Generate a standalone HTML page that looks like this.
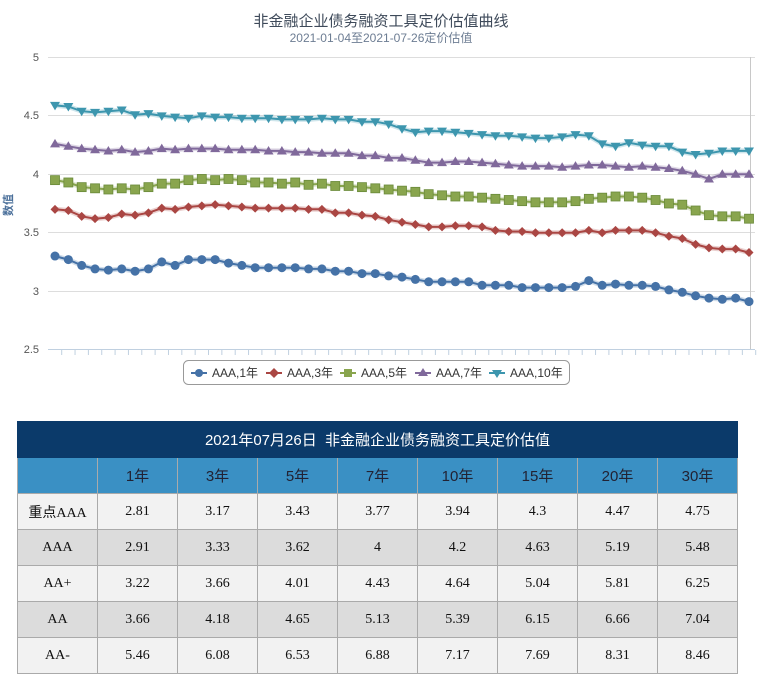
<!DOCTYPE html>
<html><head><meta charset="utf-8"><style>
body{margin:0;width:762px;height:691px;background:#fff;overflow:hidden;position:relative;font-family:"Liberation Sans","Noto Sans CJK SC",sans-serif}
table{position:absolute;left:17px;top:421px;border-collapse:collapse;width:721px;font-family:"Liberation Serif","Noto Sans CJK SC",serif;font-size:14px;color:#111}
td{border:1px solid #aaa;text-align:center;height:35px;padding:0;width:79px}
.t td{background:#0b3a6a;color:#fff;font-family:"Liberation Sans","Noto Sans CJK SC",sans-serif;font-size:15px;border-color:#0b3a6a}
.h td{background:#3a90c4;color:#223;font-family:"Liberation Sans","Noto Sans CJK SC",sans-serif;font-size:15px;border-color:#aaa}
.a td{background:#f2f2f2}.b td{background:#dcdcdc}
</style></head><body>
<svg id="c" width="762" height="400" style="position:absolute;left:0;top:0" font-family="Liberation Sans,Noto Sans CJK SC,sans-serif">
<text x="381" y="26" text-anchor="middle" font-size="15" fill="#3e4a5a">非金融企业债务融资工具定价估值曲线</text>
<text x="381" y="42" text-anchor="middle" font-size="12" fill="#6d7d93">2021-01-04至2021-07-26定价估值</text>
<g font-size="11" fill="#555" text-anchor="end">
<text x="39" y="61">5</text><text x="39" y="119">4.5</text><text x="39" y="178">4</text><text x="39" y="236">3.5</text><text x="39" y="295">3</text><text x="39" y="353">2.5</text></g>
<text x="12" y="205" font-size="11" fill="#4a6f9a" font-weight="bold" transform="rotate(-90 12 205)" text-anchor="middle">数值</text>
<g stroke="#ddd" stroke-width="1">
<line x1="48" x2="755" y1="57.5" y2="57.5"/><line x1="48" x2="755" y1="115.5" y2="115.5"/><line x1="48" x2="755" y1="174.5" y2="174.5"/><line x1="48" x2="755" y1="232.5" y2="232.5"/><line x1="48" x2="755" y1="291.5" y2="291.5"/></g>
<line x1="48" x2="755" y1="349.5" y2="349.5" stroke="#c0d0e0"/>
<line x1="750.5" x2="750.5" y1="57" y2="349" stroke="#c8c8c8"/>
<g id="ticks" stroke="#c0d0e0"></g>
<g id="series"></g>
<rect x="183.5" y="360.5" width="386" height="24" rx="5" fill="#fff" stroke="#999"/>
<g font-size="12" fill="#333">
<line x1="191" x2="207" y1="373" y2="373" stroke="#4572a7" stroke-width="2"/><circle cx="199" cy="373" r="4" fill="#4572a7"/><text x="212" y="377">AAA,1年</text>
<line x1="266" x2="282" y1="373" y2="373" stroke="#aa4643" stroke-width="2"/><path d="M274 368l5 5-5 5-5-5z" fill="#aa4643"/><text x="287" y="377">AAA,3年</text>
<line x1="340" x2="356" y1="373" y2="373" stroke="#89a54e" stroke-width="2"/><rect x="344" y="369" width="8" height="8" fill="#89a54e"/><text x="361" y="377">AAA,5年</text>
<line x1="415" x2="431" y1="373" y2="373" stroke="#80699b" stroke-width="2"/><path d="M423 368l5 8h-10z" fill="#80699b"/><text x="436" y="377">AAA,7年</text>
<line x1="489" x2="505" y1="373" y2="373" stroke="#3d96ae" stroke-width="2"/><path d="M497 378l5-8h-10z" fill="#3d96ae"/><text x="510" y="377">AAA,10年</text>
</g>
</svg>
<table>
<tr class="t"><td colspan="9">2021年07月26日&nbsp; 非金融企业债务融资工具定价估值</td></tr>
<tr class="h"><td></td><td>1年</td><td>3年</td><td>5年</td><td>7年</td><td>10年</td><td>15年</td><td>20年</td><td>30年</td></tr>
<tr class="a"><td>重点AAA</td><td>2.81</td><td>3.17</td><td>3.43</td><td>3.77</td><td>3.94</td><td>4.3</td><td>4.47</td><td>4.75</td></tr>
<tr class="b"><td>AAA</td><td>2.91</td><td>3.33</td><td>3.62</td><td>4</td><td>4.2</td><td>4.63</td><td>5.19</td><td>5.48</td></tr>
<tr class="a"><td>AA+</td><td>3.22</td><td>3.66</td><td>4.01</td><td>4.43</td><td>4.64</td><td>5.04</td><td>5.81</td><td>6.25</td></tr>
<tr class="b"><td>AA</td><td>3.66</td><td>4.18</td><td>4.65</td><td>5.13</td><td>5.39</td><td>6.15</td><td>6.66</td><td>7.04</td></tr>
<tr class="a"><td>AA-</td><td>5.46</td><td>6.08</td><td>6.53</td><td>6.88</td><td>7.17</td><td>7.69</td><td>8.31</td><td>8.46</td></tr>
</table>
<script>
var NS="http://www.w3.org/2000/svg";
function fix(a){a=a.slice(0,53);while(a.length<53)a.push(a[a.length-1]);return a}
var S=[
["#3d96ae","dn",[4.59,4.58,4.54,4.53,4.54,4.55,4.51,4.52,4.50,4.49,4.48,4.50,4.49,4.49,4.48,4.48,4.48,4.47,4.47,4.47,4.48,4.47,4.47,4.45,4.45,4.43,4.39,4.36,4.37,4.37,4.36,4.35,4.34,4.33,4.33,4.32,4.31,4.31,4.32,4.34,4.33,4.26,4.24,4.27,4.25,4.24,4.24,4.19,4.17,4.18,4.20,4.20,4.20]],
["#80699b","up",[4.26,4.24,4.22,4.21,4.20,4.21,4.19,4.20,4.22,4.21,4.22,4.22,4.22,4.21,4.21,4.21,4.20,4.20,4.19,4.19,4.18,4.18,4.18,4.16,4.16,4.14,4.14,4.12,4.10,4.10,4.11,4.11,4.10,4.09,4.08,4.07,4.07,4.07,4.06,4.07,4.08,4.08,4.07,4.06,4.07,4.06,4.05,4.03,4.00,3.96,4.00,4.00,4.00]],
["#89a54e","sq",[3.95,3.93,3.89,3.88,3.87,3.88,3.87,3.89,3.92,3.92,3.95,3.96,3.95,3.96,3.95,3.93,3.93,3.92,3.93,3.91,3.92,3.90,3.90,3.89,3.88,3.87,3.86,3.85,3.83,3.82,3.81,3.81,3.80,3.79,3.78,3.77,3.76,3.76,3.76,3.77,3.79,3.80,3.81,3.81,3.80,3.78,3.75,3.74,3.69,3.65,3.64,3.64,3.62]],
["#aa4643","di",[3.70,3.69,3.64,3.62,3.63,3.66,3.65,3.67,3.71,3.70,3.72,3.73,3.74,3.73,3.72,3.71,3.71,3.71,3.71,3.70,3.70,3.67,3.67,3.65,3.64,3.61,3.59,3.57,3.55,3.55,3.56,3.56,3.55,3.52,3.51,3.51,3.50,3.50,3.50,3.50,3.52,3.50,3.52,3.52,3.52,3.50,3.47,3.45,3.40,3.37,3.36,3.36,3.33]],
["#4572a7","ci",[3.30,3.27,3.22,3.19,3.18,3.19,3.17,3.19,3.25,3.22,3.27,3.27,3.27,3.24,3.22,3.20,3.20,3.20,3.20,3.19,3.19,3.17,3.17,3.15,3.15,3.13,3.12,3.10,3.08,3.08,3.08,3.08,3.05,3.05,3.05,3.03,3.03,3.03,3.03,3.04,3.09,3.05,3.06,3.05,3.05,3.04,3.01,2.99,2.96,2.94,2.93,2.94,2.91]]];
var g=document.getElementById("series"),h="";
function X(i){return 55+i*(749-55)/52}
function Y(v){return 57.5+(5-v)*116.8}
var t="";for(var i=0;i<=52;i++){var x=X(i)+6.7;t+='<line x1="'+x+'" x2="'+x+'" y1="350" y2="355"/>'}
document.getElementById("ticks").innerHTML=t;
S.forEach(function(s){var d=fix(s[2]),p="";d.forEach(function(v,i){p+=(i?"L":"M")+X(i).toFixed(1)+" "+Y(v).toFixed(1)});
h+='<path d="'+p+'" fill="none" stroke="'+s[0]+'" stroke-opacity="0.25" stroke-width="5"/><path d="'+p+'" fill="none" stroke="'+s[0]+'" stroke-width="2"/>';
d.forEach(function(v,i){var x=X(i),y=Y(v),c=s[0];
if(s[1]=="ci")h+='<circle cx="'+x+'" cy="'+y+'" r="4.5" fill="'+c+'"/>';
else if(s[1]=="di")h+='<path d="M'+x+' '+(y-4.5)+'l4.5 4.5-4.5 4.5-4.5-4.5z" fill="'+c+'"/>';
else if(s[1]=="sq")h+='<rect x="'+(x-4.5)+'" y="'+(y-4.5)+'" width="9" height="9" fill="'+c+'" stroke="#6a8a3a" stroke-width="0.8"/>';
else if(s[1]=="up")h+='<path d="M'+x+' '+(y-5)+'l5 8.5h-10z" fill="'+c+'"/>';
else h+='<path d="M'+x+' '+(y+5)+'l5-8.5h-10z" fill="'+c+'"/>';});});
g.innerHTML=h;
</script>
</body></html>
